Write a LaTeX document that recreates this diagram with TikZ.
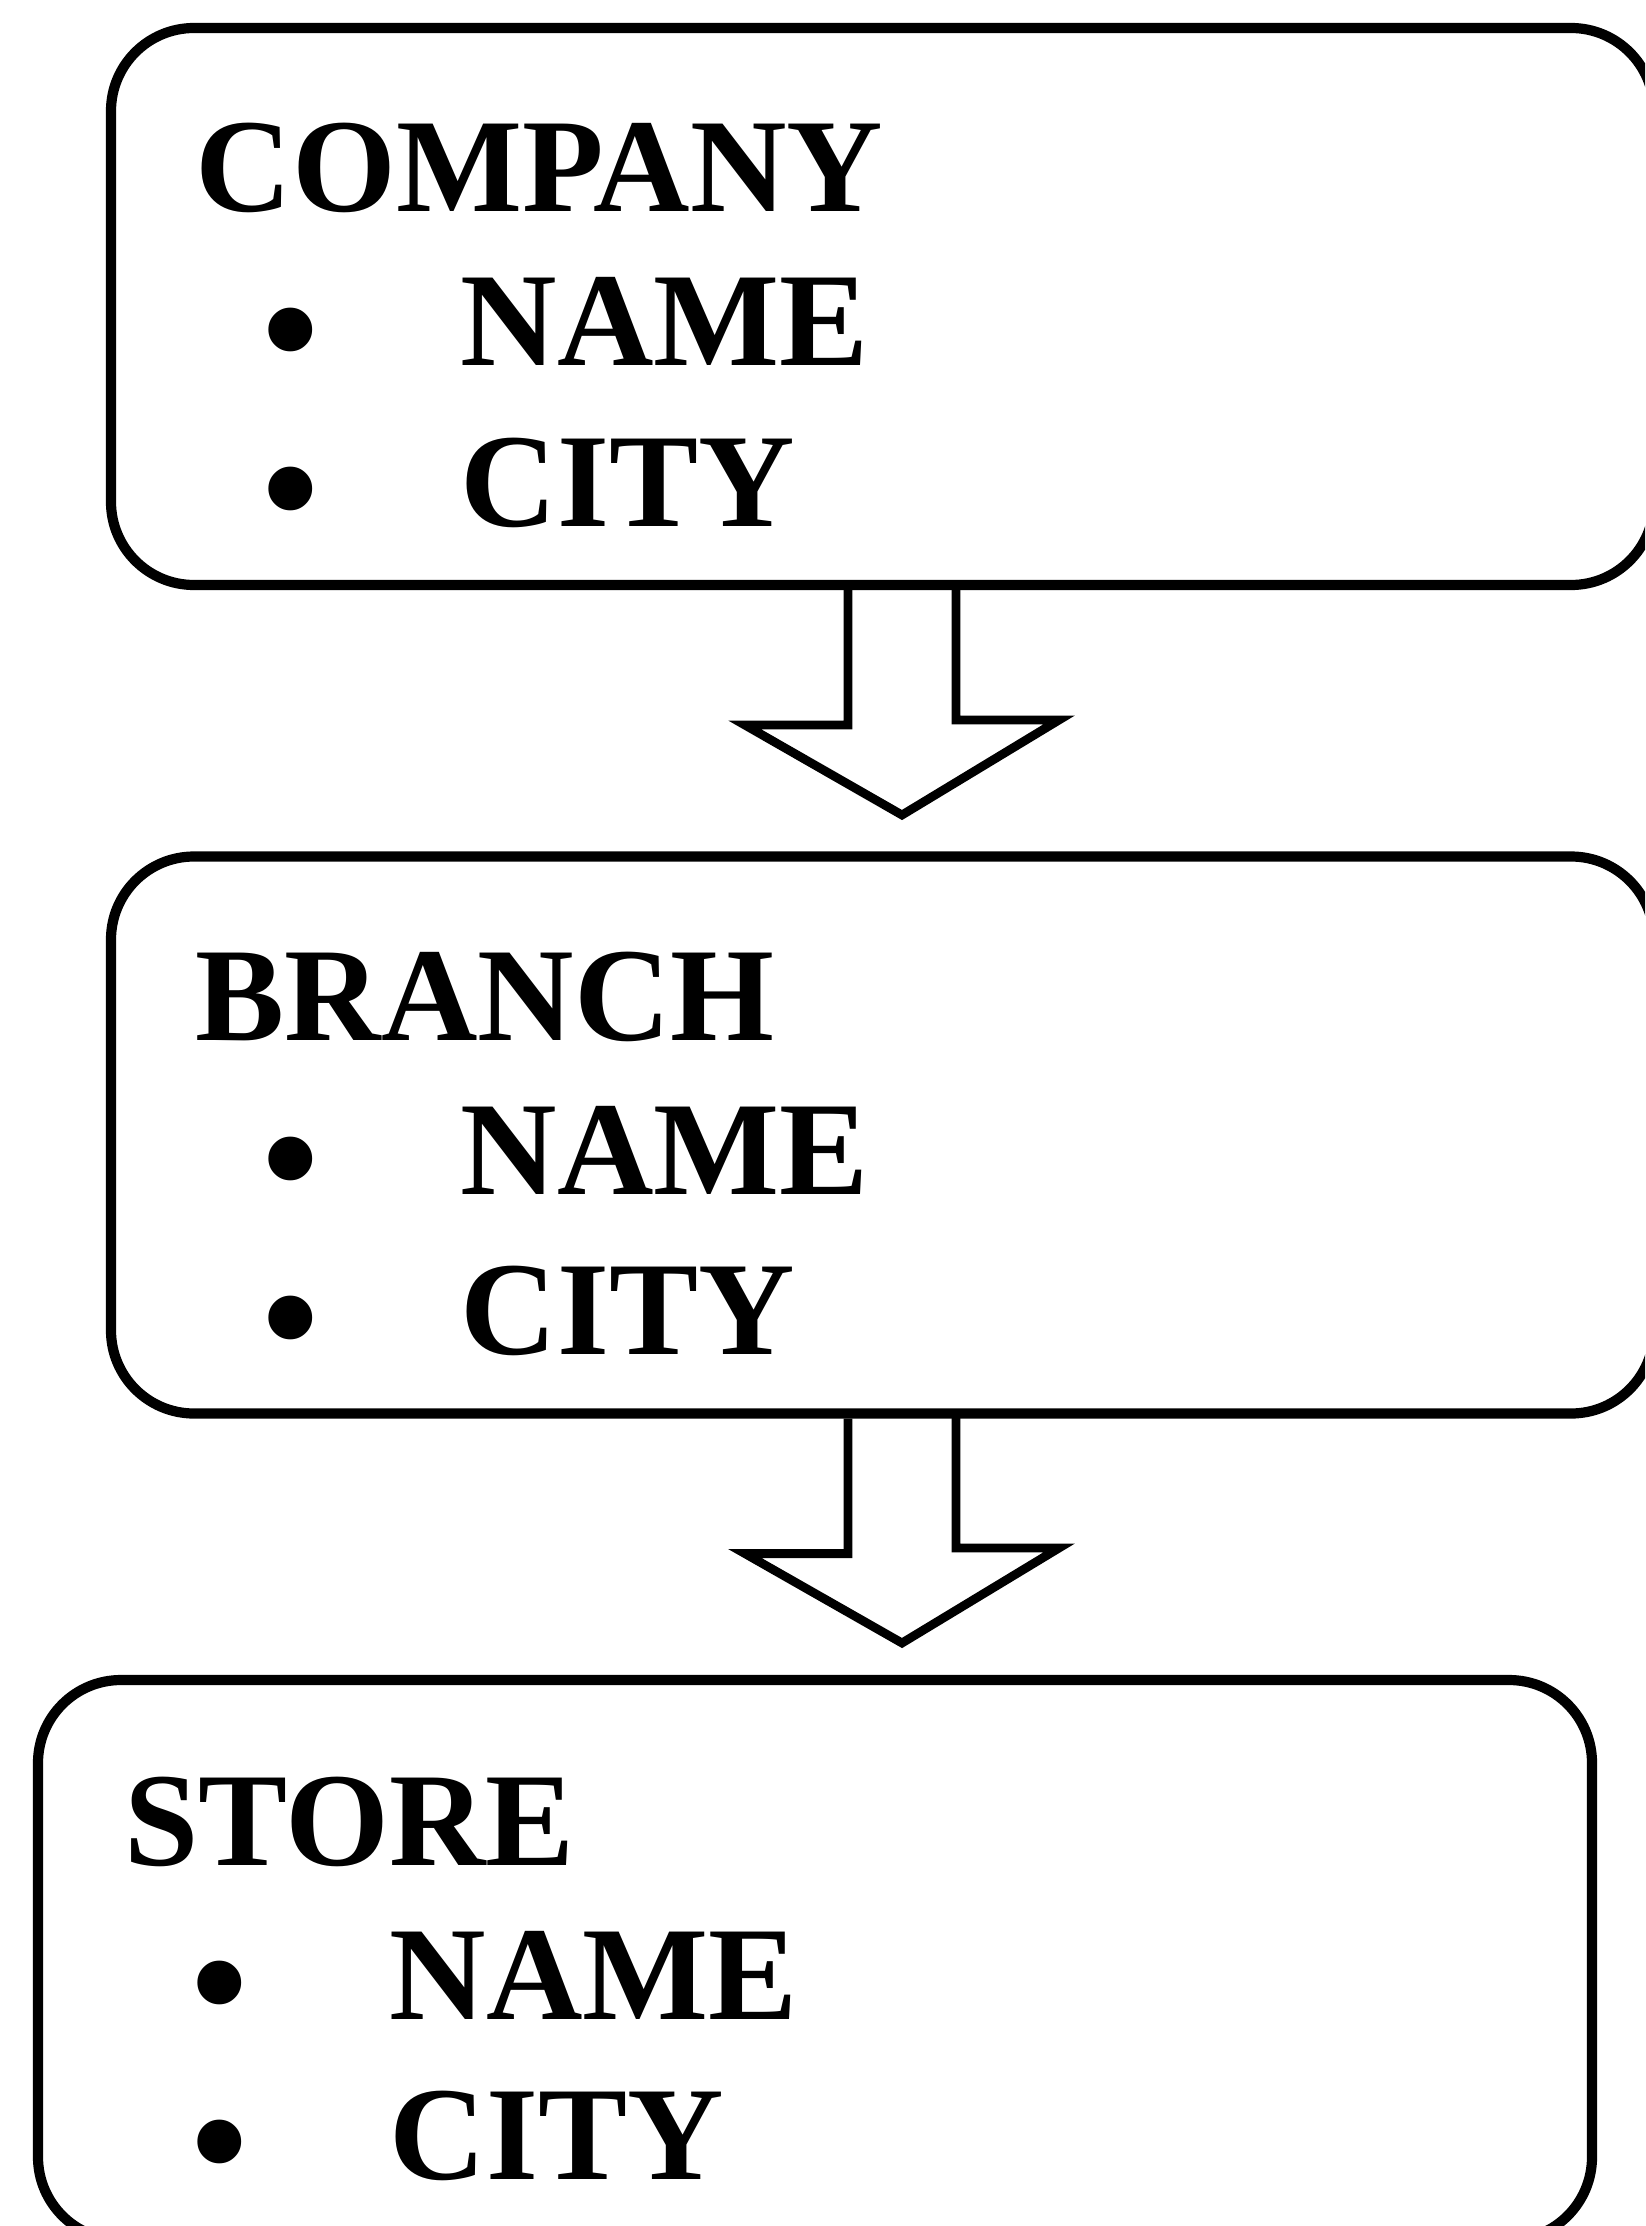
\documentclass[tikz,border=0pt]{standalone}
\usepackage{fontspec}
\setmainfont{Liberation Serif}
\usepackage{tikz}
\tikzset{
  entity/.style={draw, line width=2.9pt, rounded corners=0.83cm, minimum width=15.43cm, minimum height=5.57cm},
  heading/.style={anchor=base west, inner sep=0pt, font=\fontsize{38}{40}\selectfont\bfseries},
  bulletmark/.style={inner sep=0pt, font=\fontsize{46}{48}\selectfont\bfseries},
  blockarrow/.style={line width=2.5pt},
}

\begin{document}
\begin{tikzpicture}
\useasboundingbox (0,0) rectangle (16.45,-22.26);
\clip (0,0) rectangle (16.45,-22.26);
% company
\begin{scope}[shift={(0,0)}]
\node[entity] (company) at (8.825,-3.065) {};
\node[heading] (companyT) at (1.95,-2.12) {COMPANY};
\node[bulletmark] (cb1) at (2.91,-3.46) {•};
\node[heading] (companyN) at (4.60,-3.66) {NAME};
\node[bulletmark] (cb2) at (2.91,-5.05) {•};
\node[heading] (companyC) at (4.60,-5.26) {CITY};
\end{scope}
% branch
\begin{scope}[shift={(0,-8.285)}]
\node[entity] (branch) at (8.825,-3.065) {};
\node[heading] (branchT) at (1.95,-2.12) {BRANCH};
\node[bulletmark] (bb1) at (2.91,-3.46) {•};
\node[heading] (branchN) at (4.60,-3.66) {NAME};
\node[bulletmark] (bb2) at (2.91,-5.05) {•};
\node[heading] (branchC) at (4.60,-5.26) {CITY};
\end{scope}
% store
\begin{scope}[shift={(-0.71,-16.53)}]
\node[entity, minimum width=15.54cm, minimum height=5.60cm] (store) at (8.86,-3.07) {};
\node[heading] (storeT) at (1.95,-2.12) {STORE};
\node[bulletmark] (sb1) at (2.91,-3.46) {•};
\node[heading] (storeN) at (4.60,-3.66) {NAME};
\node[bulletmark] (sb2) at (2.91,-5.05) {•};
\node[heading] (storeC) at (4.60,-5.26) {CITY};
\end{scope}
% arrows
\coordinate (top1) at (company.south -| 9.02,0);
\coordinate (tip1) at (9.02,-8.15);
\coordinate (top2) at (branch.south -| 9.02,0);
\coordinate (tip2) at (9.02,-16.43);
\draw[blockarrow] (top1) ++(-0.54,0) |- ++(-1.03,-1.35) -- (tip1) -- ++(1.57,0.95) -| ++(-1.03,1.35);
\draw[blockarrow] (top2) ++(-0.54,0) |- ++(-1.03,-1.35) -- (tip2) -- ++(1.57,0.95) -| ++(-1.03,1.35);
\end{tikzpicture}
\end{document}
